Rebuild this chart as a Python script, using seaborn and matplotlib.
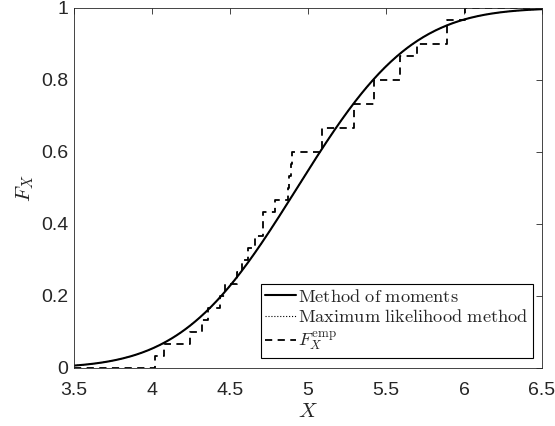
import math
import numpy as np
import pandas as pd
import seaborn as sns
import matplotlib
matplotlib.use("Agg")
import matplotlib.pyplot as plt
from matplotlib.ticker import FuncFormatter

# data
samples = [4.02, 4.077, 4.243, 4.32, 4.36, 4.436, 4.47,
           4.545, 4.58, 4.615, 4.66, 4.71, 4.71, 4.79,
           4.87, 4.88, 4.89, 4.90, 5.09, 5.09, 5.295, 5.295,
           5.42, 5.42, 5.59, 5.59, 5.70, 5.89, 5.89, 6.006]
mu_mom, sigma_mom = 4.93, 0.578   # method of moments
mu_mle, sigma_mle = 4.93, 0.578   # maximum likelihood
x_lim = (3.5, 6.5)
x_ticks = [3.5, 4, 4.5, 5, 5.5, 6, 6.5]
y_ticks = [0, 0.2, 0.4, 0.6, 0.8, 1]


def norm_cdf(x, mu, sigma):
    erf = np.vectorize(math.erf)
    return 0.5 * (1 + erf((x - mu) / (sigma * math.sqrt(2))))


# curves
xs = np.linspace(x_lim[0], x_lim[1], 400)
df_fit = pd.DataFrame({"x": xs,
                       "mom": norm_cdf(xs, mu_mom, sigma_mom),
                       "mle": norm_cdf(xs, mu_mle, sigma_mle)})

# empirical cdf as stairs
n = len(samples)
df_emp = pd.DataFrame({"x": [x_lim[0]] + sorted(samples) + [x_lim[1]],
                       "F": [0] + [i / n for i in range(1, n + 1)] + [1]})

sns.set_style("white")
plt.rcParams["font.family"] = ["Liberation Sans", "DejaVu Sans"]
plt.rcParams["mathtext.fontset"] = "cm"
ink = "#262626"

fig = plt.figure(figsize=(5.55, 4.26), dpi=100)
ax = fig.add_axes([74 / 555, 1 - 368 / 426, 468 / 555, 360 / 426])

sns.lineplot(data=df_fit, x="x", y="mom", ax=ax, color="black", lw=1.5,
             label=r"$\mathrm{Method\ of\ moments}$")
sns.lineplot(data=df_fit, x="x", y="mle", ax=ax, color="black", lw=0.8,
             linestyle=":", label=r"$\mathrm{Maximum\ likelihood\ method}$")
sns.lineplot(data=df_emp, x="x", y="F", ax=ax, color="black", lw=1.3,
             linestyle=(0, (4, 3)), drawstyle="steps-post", estimator=None,
             sort=False, label=r"$F_X^{\mathrm{emp}}$")

ax.set_xlim(*x_lim)
ax.set_ylim(0, 1)
ax.set_xticks(x_ticks)
ax.set_yticks(y_ticks)
fmt = FuncFormatter(lambda v, p: f"{v:g}")
ax.xaxis.set_major_formatter(fmt)
ax.yaxis.set_major_formatter(fmt)
ax.tick_params(direction="in", length=4, width=0.6, color=ink, labelcolor=ink,
               labelsize=14, top=True, right=True)
ax.tick_params(axis="x", pad=10)
ax.tick_params(axis="y", pad=4)
for s in ax.spines.values():
    s.set_visible(True)
    s.set_color(ink)
    s.set_linewidth(0.6)

ax.set_xlabel(r"$X$", size=15, color=ink, labelpad=2)
ax.set_ylabel(r"$F_X$", size=15, color=ink, labelpad=4)

leg = ax.legend(loc="lower right", bbox_to_anchor=(0.981, 0.028),
                borderaxespad=0, fancybox=False, framealpha=1,
                edgecolor="black", fontsize=13.2, handlelength=1.7,
                handletextpad=0.1, labelspacing=0.2, borderpad=0.25)
leg.get_frame().set_linewidth(0.8)

plt.savefig("out.png", dpi=100)
